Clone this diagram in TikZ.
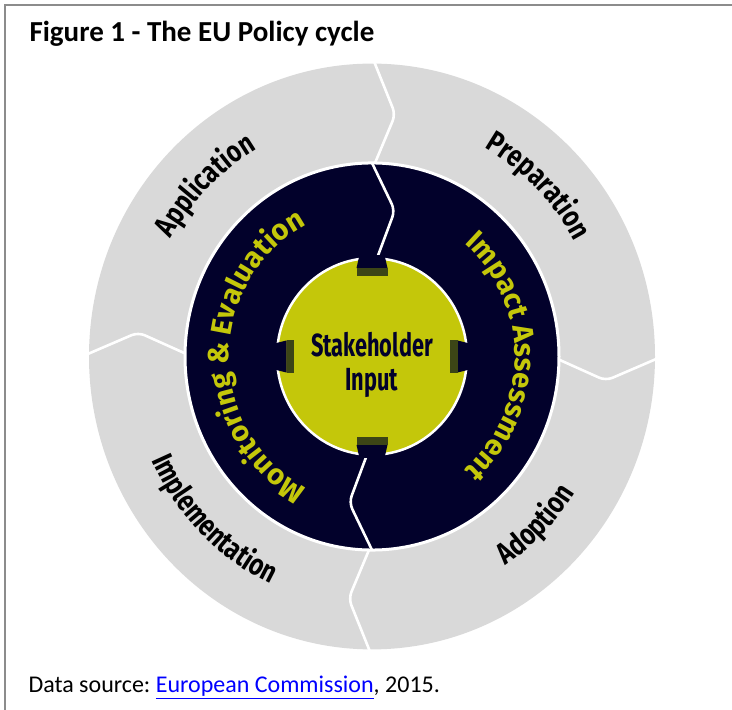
\documentclass[tikz,border=0pt]{standalone}
\usepackage{fontspec}
\setmainfont{Carlito}
\newfontfamily\condfont{Fira Sans}[FakeStretch=0.8]
\newfontfamily\narrowfont{Fira Sans}[FakeStretch=0.68]
\newfontfamily\ringfont{Fira Sans}
\usepackage{tikz}
\usetikzlibrary{decorations.text}
\definecolor{ringgray}{HTML}{D9D9D9}
\definecolor{navy}{HTML}{02012B}
\definecolor{lime}{HTML}{C4C70A}
\definecolor{olive}{HTML}{3C4516}
\definecolor{framegray}{HTML}{8C8C8C}
\definecolor{linkblue}{HTML}{0000FF}

\begin{document}
\begin{tikzpicture}[x=1pt,y=1pt,
  sep/.style={draw=white,line width=2.6pt,rounded corners=7pt},
  stage/.style={decorate,decoration={text along path,text align=center,
    text color=black,text={|\condfont\bfseries\fontsize{30}{30}\selectfont|#1}}},
  task/.style={decorate,decoration={text along path,text align=center,
    text color=lime,text={|\ringfont\bfseries\fontsize{29}{29}\selectfont|#1}}}]

  \useasboundingbox (0,0) rectangle (732,710);
  \draw[framegray,line width=2.5pt] (5,0) -- (5,705) -- (732,705);

  \node[anchor=base west,font=\bfseries\fontsize{29}{34}\selectfont] (title)
    at (26,668) {Figure 1 - The EU Policy cycle};
  \node[anchor=base west,font=\fontsize{24}{28}\selectfont] (source)
    at (25,17) {\frenchspacing Data source: \textcolor{linkblue}{\underline{European Commission}}, 2015.};

  \begin{scope}[shift={(372,353.5)},yscale=1.035]
    % outer ring with its four stages
    \fill[ringgray] (0,0) circle[radius=283];
    \foreach \a in {0,90,180,270}
      \draw[sep] (\a:180) -- (\a-5.7:235) -- (\a:290);
    \draw[fill=navy,draw=white,line width=3pt] (0,0) circle[radius=187];
    % inner ring, split in two
    \foreach \a in {90,270}
      \draw[sep] (\a:187) -- (\a-9.2:143) -- (\a-3.4:97);
    \draw[fill=lime,draw=white,line width=2.5pt] (0,0) circle[radius=95];
    \foreach \a in {0,90,180,270} {
      \fill[navy,rotate=\a] (85.5,-15.5) -- (98,-12.5) -- (98,12.5) -- (85.5,15.5) -- cycle;
      \fill[olive,rotate=\a] (78,-15.5) rectangle (85.5,15.5);
    }
    \node[font=\narrowfont\bfseries\fontsize{32}{34}\selectfont,text=navy,align=center]
      (input) at (0,-8) {Stakeholder\\Input};

    \path[stage={Application}] (165:231) arc[start angle=165,end angle=105,radius=231];
    \path[stage={Preparation}] (75:231) arc[start angle=75,end angle=15,radius=231];
    \path[stage={Adoption}] (-75:242) arc[start angle=-75,end angle=-15,radius=242];
    \path[stage={Implementation}] (195:242) arc[start angle=195,end angle=255,radius=242];
    \path[task={Monitoring {\&} Evaluation}] (250:143) arc[start angle=250,end angle=110,radius=143];
    \path[task={Impact Assessment}] (70:143) arc[start angle=70,end angle=-70,radius=143];
  \end{scope}
\end{tikzpicture}
\end{document}
